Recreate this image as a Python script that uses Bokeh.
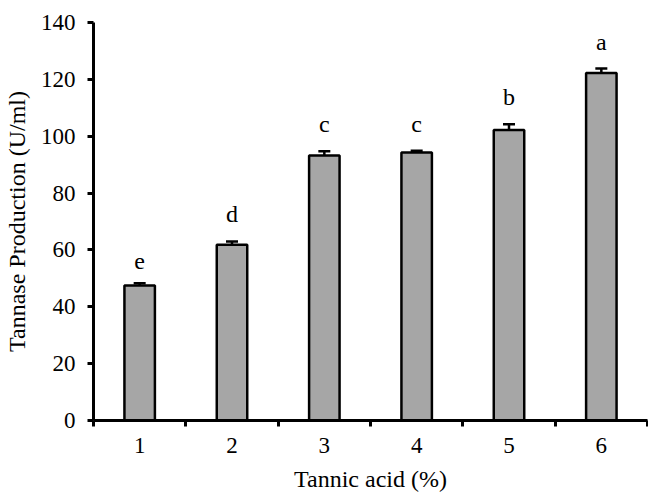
from bokeh.plotting import figure
from bokeh.models import ColumnDataSource, FixedTicker, Whisker, TeeHead
from bokeh.core.properties import value
from bokeh.embed import file_html
from bokeh.resources import INLINE

# Tannase production at different tannic acid concentrations
concentrations = [1, 2, 3, 4, 5, 6]
production = [47.5, 61.8, 93.2, 94.3, 102.2, 122.2]
std_error = [0.8, 1.2, 1.5, 0.6, 2.0, 1.6]
groups = ["e", "d", "c", "c", "b", "a"]
y_ticks = [0, 20, 40, 60, 80, 100, 120, 140]

FONT = "Liberation Serif"

src = ColumnDataSource(dict(
    x=concentrations,
    y=production,
    lower=[v - e for v, e in zip(production, std_error)],
    upper=[v + e for v, e in zip(production, std_error)],
    label=groups,
))

p = figure(width=648, height=495, x_range=(0.5, 6.5), y_range=(0, 140),
           output_backend="svg", toolbar_location=None,
           min_border_left=93, min_border_right=1, min_border_top=22,
           min_border_bottom=75)
p.outline_line_color = None
p.xgrid.visible = False
p.ygrid.visible = False
p.background_fill_color = "white"
p.border_fill_color = "white"

p.vbar(x="x", top="y", width=0.33, source=src, fill_color="#a6a6a6",
       line_color="black", line_width=2.5)

err = Whisker(base="x", lower="lower", upper="upper", source=src,
              line_color="black", line_width=2.5,
              upper_head=TeeHead(size=12, line_width=2.5, line_color="black"),
              lower_head=TeeHead(size=12, line_width=2.5, line_color="black"))
p.add_layout(err)

# significance letters floated above each error bar
p.text(x="x", y="upper", text="label", source=src, text_align="center",
       text_baseline="bottom", y_offset=-14,
       text_font=value(FONT), text_font_size=value("24px"),
       text_color="black")

# x axis: labels at bar centres, tick marks at category boundaries
p.xaxis.ticker = FixedTicker(ticks=concentrations,
                             minor_ticks=[0.5 + i for i in range(7)])
p.xaxis.major_tick_line_color = None
p.xaxis.minor_tick_line_color = "black"
p.xaxis.minor_tick_line_width = 3
p.xaxis.minor_tick_out = 6
p.xaxis.minor_tick_in = 0
p.xaxis.major_label_standoff = 11
p.xaxis.axis_label = "Tannic acid (%)"
p.xaxis.axis_label_standoff = 10

p.yaxis.ticker = FixedTicker(ticks=y_ticks, minor_ticks=[])
p.yaxis.major_tick_line_width = 3
p.yaxis.major_tick_out = 6
p.yaxis.major_tick_in = 0
p.yaxis.major_label_standoff = 12
p.yaxis.axis_label = "Tannase Production (U/ml)"
p.yaxis.axis_label_standoff = 8

for ax in (p.xaxis, p.yaxis):
    ax.axis_line_width = 3
    ax.axis_line_color = "black"
    ax.major_label_text_font = FONT
    ax.major_label_text_font_size = "23px"
    ax.major_label_text_color = "black"
    ax.axis_label_text_font = FONT
    ax.axis_label_text_font_size = "24px"
    ax.axis_label_text_font_style = "normal"
    ax.axis_label_text_color = "black"

open("out.html", "w").write(file_html(p, INLINE))
